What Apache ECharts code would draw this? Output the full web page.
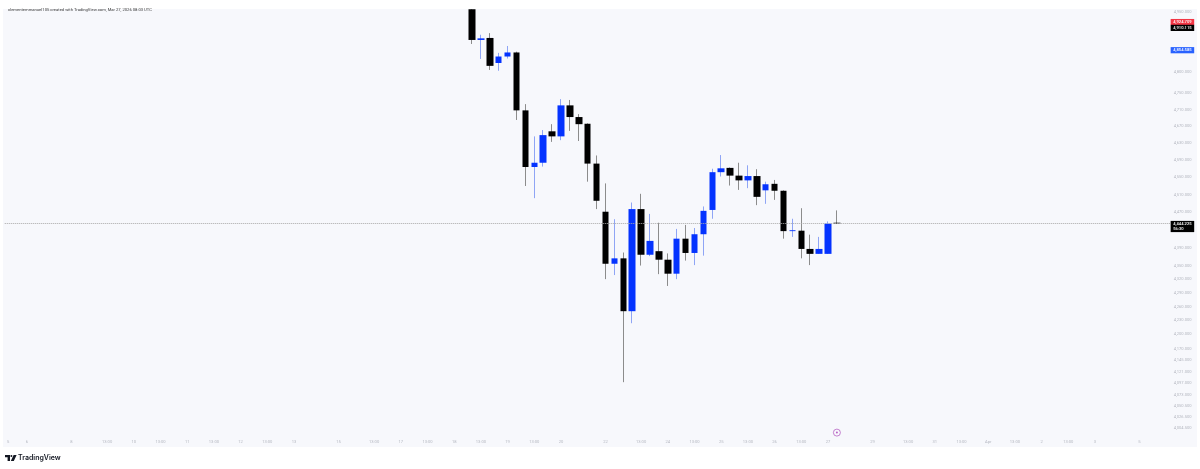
<!DOCTYPE html>
<html>
<head>
<meta charset="utf-8">
<style>
  html, body { margin: 0; padding: 0; background: #fff; }
  #main { width: 1200px; height: 469px; }
</style>
<script src="https://cdn.jsdelivr.net/npm/echarts@6/dist/echarts.min.js"></script>
</head>
<body>
<div id="main"></div>
<script>
// time axis, one slot per 4h candle, '' = no label
var categories = [
  '5','','6','','','','','8','','','','13:00','','','10','','','13:00','','','11','','','13:00','','',
  '12','','','13:00','','','13','','','','','15','','','','13:00','','','17','','','13:00','','','18','','',
  '13:00','','','19','','','13:00','','','20','','','','','22','','','','13:00','','','24','','','13:00','','',
  '25','','','13:00','','','26','','','13:00','','','27','','','','','29','','','','13:00','','','31','','',
  '13:00','','','Apr','','','13:00','','','2','','','13:00','','','3','','','','','5','','',''
]
// slot of the first visible candle
var firstSlot = 52

// first candle runs off the top of the chart, read as the top of the scale
var opens  = [4957,4880,4885,4823,4839,4849,4708,4574,4584,4658,4646,4720,4692,4676,4582,4471,4354,4366,4250,4477,4374,4382,4363,4332,4410,4378,4420,4475,4562,4572,4554,4543,4553,4520,4535,4519,4427,4428,4387,4376,4376,4446]
var closes = [4880,4884,4816,4839,4849,4708,4574,4584,4649,4646,4720,4692,4675,4582,4496,4354,4366,4250,4477,4374,4405,4363,4332,4410,4378,4420,4473,4562,4571,4554,4543,4553,4505,4534,4519,4427,4429,4387,4376,4387,4444,4444.225]
var lows   = [4870,4833,4806,4804,4834,4685,4530,4502,4575,4633,4637,4659,4635,4540,4477,4320,4329,4099,4224,4350,4371,4331,4305,4320,4361,4351,4372,4455,4552,4531,4521,4525,4486,4489,4498,4410,4414,4366,4351,4376,4376,4443]
var highs  = [4957,4893,4897,4848,4865,4851,4723,4646,4661,4675,4735,4733,4699,4677,4601,4536,4454,4379,4492,4512,4466,4446,4377,4432,4441,4434,4483,4570,4602,4573,4584,4578,4569,4540,4544,4520,4455,4479,4419,4414,4449,4474]

// price scale labels
var yTicks = [4950,4800,4750,4710,4670,4630,4590,4550,4510,4470,4390,4350,4320,4290,4260,4230,4200,4170,4145,4121,4097,4073,4050.5,4026.5,4004.5]

var lastPrice = 4444.225
var countdown = '56:30'
var redLevel = 4924.709
var blackLevel = 4910.115
var blueLevel = 4854.585
var eventPrice = 3995

var blue = '#0433ff'
var panel = '#f7f8fc'
var axisGrey = '#b4b7c0'
var font = 'Roboto, sans-serif'

function pad(arr) {
  var out = []
  for (var i = 0; i < firstSlot; i++) out.push('-')
  return out.concat(arr)
}

var wickData = pad(opens.map(function (o, i) {
  return [o, closes[i], lows[i], highs[i]]
}))
// body only, drawn over the lighter wicks
var bodyData = pad(opens.map(function (o, i) {
  return [o, closes[i], Math.min(o, closes[i]), Math.max(o, closes[i])]
}))
// only the last candle carries the event marker
var eventData = pad(opens.map(function (o, i) {
  return i === opens.length - 1 ? eventPrice : '-'
}))

function fmt(v) {
  return v.toLocaleString('en-US', { minimumFractionDigits: 3, maximumFractionDigits: 3 })
}

function tag(value, bg) {
  return {
    yAxis: value,
    lineStyle: { width: 0, color: 'transparent' },
    label: {
      show: true, position: 'end', distance: 0,
      formatter: fmt(value),
      backgroundColor: bg, color: '#fff',
      fontFamily: font, fontSize: 4.1, fontWeight: 500,
      padding: [0.6, 2.6, 0.6, 2.6], lineHeight: 5
    }
  }
}

var myChart = echarts.init(document.getElementById('main'))

myChart.setOption({
  animation: false,
  backgroundColor: '#fff',
  title: {
    text: 'clementemmanuel105 created with TradingView.com, Mar 27, 2026 08:03 UTC',
    left: 3, top: 3,
    textStyle: { fontFamily: font, fontSize: 4.15, fontWeight: 400, color: '#3a3a3a' }
  },
  graphic: [
    // panel behind plot and price scale
    { type: 'rect', z: -10, silent: true, shape: { x: 3, y: 9, width: 1194, height: 438 }, style: { fill: panel } },
    // TradingView logo
    { type: 'polygon', shape: { points: [[5, 455], [10, 455], [10, 461], [7.6, 461], [7.6, 457.2], [5, 457.2]] }, style: { fill: '#131722' } },
    { type: 'circle', shape: { cx: 11.4, cy: 456, r: 1 }, style: { fill: '#131722' } },
    { type: 'polygon', shape: { points: [[13.6, 455], [16.6, 455], [13.8, 461], [10.8, 461]] }, style: { fill: '#131722' } },
    { type: 'text', left: 18, top: 454.5, style: { text: 'TradingView', fontFamily: 'Inter, Roboto, sans-serif', fontSize: 7, fontWeight: 600, fill: '#131722' } }
  ],
  grid: { left: 4.75, top: 9, width: 1165.9, height: 438 },
  xAxis: {
    type: 'category',
    data: categories,
    axisLine: { show: false },
    axisTick: { show: false },
    splitLine: { show: false },
    axisLabel: {
      inside: true, interval: 0, margin: 3,
      hideOverlap: false,
      alignMinLabel: 'right',
      color: axisGrey, fontFamily: font, fontSize: 4.1
    }
  },
  yAxis: {
    type: 'log',
    logBase: 10,
    position: 'right',
    min: 3965.8,
    max: 4957.6,
    scale: true,
    axisLine: { show: false },
    axisTick: { show: false },
    splitLine: { show: false },
    axisLabel: {
      customValues: yTicks,
      margin: 3,
      color: axisGrey, fontFamily: font, fontSize: 4.1,
      formatter: function (v) { return fmt(v) }
    }
  },
  series: [
    {
      name: 'wicks',
      type: 'candlestick',
      barWidth: 1,
      data: wickData,
      itemStyle: { color: '#8fa5f5', color0: '#8c8c8c', borderColor: '#8fa5f5', borderColor0: '#8c8c8c', borderWidth: 1 }
    },
    {
      name: 'bodies',
      type: 'candlestick',
      barWidth: 7,
      data: bodyData,
      itemStyle: { color: blue, color0: '#000', borderColor: blue, borderColor0: '#000', borderWidth: 0 },
      markLine: {
        silent: true,
        symbol: 'none',
        animation: false,
        data: [
          {
            yAxis: lastPrice,
            lineStyle: { type: 'dotted', width: 1, color: '#a8a8a8' },
            label: {
              show: true, position: 'end', distance: 0,
              formatter: fmt(lastPrice) + '\n' + countdown,
              backgroundColor: '#000', color: '#fff',
              fontFamily: font, fontSize: 4.1, fontWeight: 500,
              padding: [0.6, 2.6, 0.6, 2.6], lineHeight: 5, align: 'left',
              offset: [0, 3]
            }
          },
          tag(redLevel, '#f23645'),
          tag(blackLevel, '#000'),
          tag(blueLevel, '#2962ff')
        ]
      }
    },
    {
      name: 'event',
      type: 'scatter',
      symbol: 'circle',
      symbolSize: 7,
      data: eventData,
      itemStyle: { color: panel, borderColor: '#a73fb5', borderWidth: 0.8 }
    },
    {
      name: 'event dot',
      type: 'scatter',
      symbol: 'circle',
      symbolSize: 2,
      data: eventData,
      itemStyle: { color: '#a73fb5' }
    }
  ]
})
</script>
</body>
</html>
